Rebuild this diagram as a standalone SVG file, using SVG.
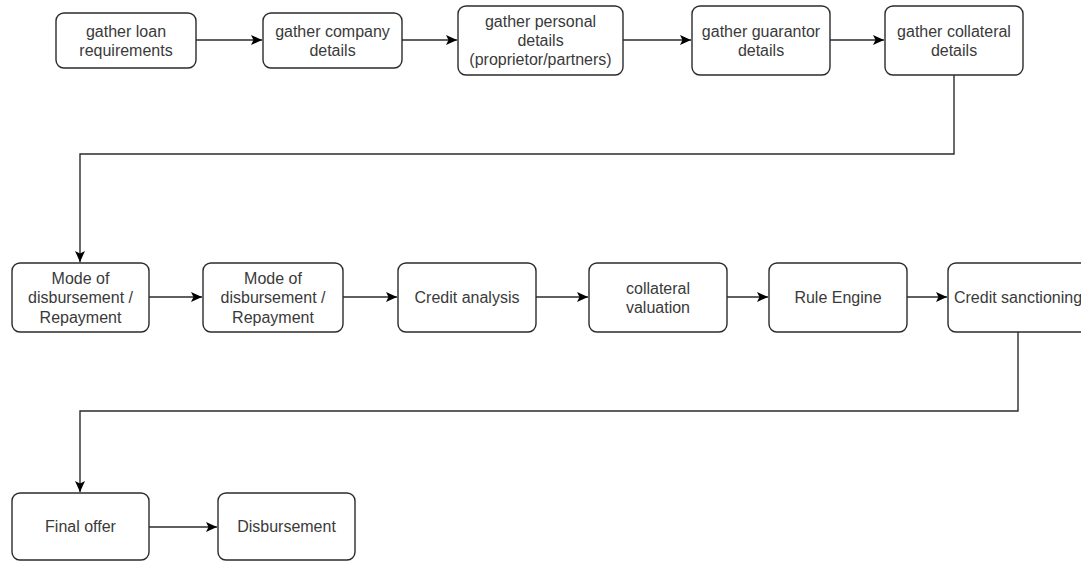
<svg xmlns="http://www.w3.org/2000/svg" width="1081" height="561" viewBox="0 0 1081 561">
<defs>
<style>
.box{fill:#fff;stroke:#2b2b2b;stroke-width:1.4}
.t{font-family:"Liberation Sans",Arial,sans-serif;font-size:16px;fill:#3a3a3a;text-anchor:middle}
.c{fill:none;stroke:#2b2b2b;stroke-width:1.4}
</style>
<marker id="arr" markerUnits="userSpaceOnUse" markerWidth="12" markerHeight="11" refX="11" refY="5.5" orient="auto">
<path d="M0,0.5 L11,5.5 L0,10.5 L2.5,5.5 z" fill="#000"/>
</marker>
</defs>
<rect width="1081" height="561" fill="#fff"/>
<g id="connectors">
<path class="c" d="M196,40 H262" marker-end="url(#arr)"/>
<path class="c" d="M402,40 H457" marker-end="url(#arr)"/>
<path class="c" d="M623,40 H691" marker-end="url(#arr)"/>
<path class="c" d="M830,40 H884" marker-end="url(#arr)"/>
<path class="c" d="M954,75 V154 H80 V262" marker-end="url(#arr)"/>
<path class="c" d="M149,297 H202" marker-end="url(#arr)"/>
<path class="c" d="M343,297 H397" marker-end="url(#arr)"/>
<path class="c" d="M536,297 H588" marker-end="url(#arr)"/>
<path class="c" d="M727,297 H768" marker-end="url(#arr)"/>
<path class="c" d="M907,297 H947" marker-end="url(#arr)"/>
<path class="c" d="M1018,332 V411 H80 V492" marker-end="url(#arr)"/>
<path class="c" d="M149,527 H217" marker-end="url(#arr)"/>
</g>
<g id="n1"><rect class="box" x="56" y="13" width="140" height="55" rx="8"/><text class="t" x="126" y="37">gather loan</text><text class="t" x="126" y="56">requirements</text></g>
<g id="n2"><rect class="box" x="263" y="13" width="139" height="55" rx="8"/><text class="t" x="332.5" y="37">gather company</text><text class="t" x="332.5" y="56">details</text></g>
<g id="n3"><rect class="box" x="458" y="6" width="165" height="69" rx="8"/><text class="t" x="540.5" y="27">gather personal</text><text class="t" x="540.5" y="46">details</text><text class="t" x="540.5" y="65">(proprietor/partners)</text></g>
<g id="n4"><rect class="box" x="692" y="6" width="138" height="69" rx="8"/><text class="t" x="761" y="37">gather guarantor</text><text class="t" x="761" y="56">details</text></g>
<g id="n5"><rect class="box" x="885" y="6" width="138" height="69" rx="8"/><text class="t" x="954" y="37">gather collateral</text><text class="t" x="954" y="56">details</text></g>
<g id="n6"><rect class="box" x="12" y="263" width="137" height="69" rx="8"/><text class="t" x="80.5" y="283.5">Mode of</text><text class="t" x="80.5" y="303">disbursement /</text><text class="t" x="80.5" y="322.5">Repayment</text></g>
<g id="n7"><rect class="box" x="203" y="263" width="140" height="69" rx="8"/><text class="t" x="273" y="283.5">Mode of</text><text class="t" x="273" y="303">disbursement /</text><text class="t" x="273" y="322.5">Repayment</text></g>
<g id="n8"><rect class="box" x="398" y="263" width="138" height="69" rx="8"/><text class="t" x="467" y="303">Credit analysis</text></g>
<g id="n9"><rect class="box" x="589" y="263" width="138" height="69" rx="8"/><text class="t" x="658" y="293.5">collateral</text><text class="t" x="658" y="313">valuation</text></g>
<g id="n10"><rect class="box" x="769" y="263" width="138" height="69" rx="8"/><text class="t" x="838" y="303">Rule Engine</text></g>
<g id="n11"><rect class="box" x="948" y="263" width="140" height="69" rx="8"/><text class="t" x="1018" y="303">Credit sanctioning</text></g>
<g id="n12"><rect class="box" x="12" y="493" width="137" height="67" rx="8"/><text class="t" x="80.5" y="532">Final offer</text></g>
<g id="n13"><rect class="box" x="218" y="493" width="137" height="67" rx="8"/><text class="t" x="286.5" y="532">Disbursement</text></g>
</svg>
